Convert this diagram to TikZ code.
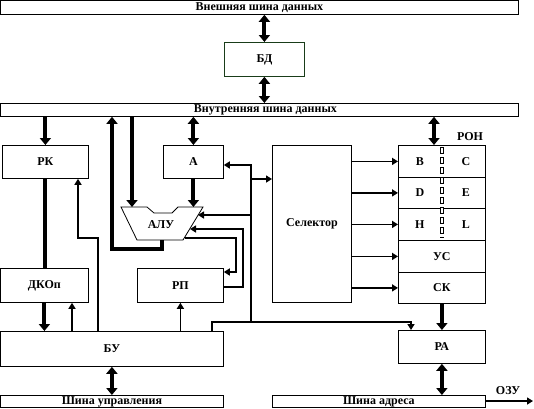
\documentclass[tikz,border=0pt]{standalone}
\usepackage{fontspec}
\setmainfont{Liberation Serif}
\usetikzlibrary{arrows.meta}
\definecolor{bdgreen}{RGB}{25,60,25}

\begin{document}
\begin{tikzpicture}[x=1pt, y=-1pt,
  blk/.style={draw, line width=0.8pt, inner sep=0pt, anchor=north west},
  lbl/.style={font=\fontsize{12}{12}\selectfont\bfseries, inner sep=0pt},
  thk/.style={line width=4pt, -{Triangle[length=7pt,width=11pt]}},
  thkl/.style={line width=4pt},
  dbl/.style={line width=4pt, {Triangle[length=7pt,width=11pt]}-{Triangle[length=7pt,width=11pt]}},
  thn/.style={line width=1.6pt, -{Triangle[length=6pt,width=7pt]}},
  thnl/.style={line width=1.6pt}]
\useasboundingbox (0,0) rectangle (534,408);
\node [blk, minimum width=518pt, minimum height=14pt] (ebus) at (0,0) {};
\node [lbl] (ebust) at (ebus.center) {Внешняя шина данных};
\node [blk, draw=bdgreen, minimum width=80pt, minimum height=34pt] (bd) at (224,42) {};
\node [lbl] (bdt) at (bd.center) {БД};
\node [blk, minimum width=518pt, minimum height=13pt] (ibus) at (0,103) {};
\node [lbl] (ibust) at ([xshift=6]ibus.center) {Внутренняя шина данных};
\node [blk, minimum width=86pt, minimum height=33pt] (rk) at (2,145) {};
\node [lbl] (rkt) at (rk.center) {РК};
\node [blk, minimum width=60pt, minimum height=33pt] (a) at (163,145) {};
\node [lbl] (at) at (a.center) {А};
\node [blk, minimum width=79pt, minimum height=157pt] (sel) at (272,145) {};
\node [lbl] (selt) at (sel.center) {Селектор};
\foreach \i/\t/\h in {1/145/32, 2/177/31, 3/208/32, 4/240/32, 5/272/31}
  \node [blk, minimum width=87pt, minimum height=\h pt] (r\i) at (398,\t) {};
\foreach \i/\l/\r in {1/B/C, 2/D/E, 3/H/L} {
  \node [lbl] (r\i l) at ([xshift=-22]r\i.center) {\l};
  \node [lbl] (r\i r) at ([xshift=24]r\i.center) {\r};
}
\node [lbl] (r4t) at (r4.center) {УС};
\node [lbl] (r5t) at (r5.center) {СК};
\node [lbl] (ront) at (470,137) {РОН};
\draw [line width=3.4pt, dash pattern=on 7pt off 3pt] (442,147) -- (442,238);
\draw [white, line width=1.2pt, dash pattern=on 5pt off 5pt] (442,148) -- (442,238);
\node [blk, minimum width=88pt, minimum height=34pt] (dkop) at (0,268) {};
\node [lbl] (dkopt) at (dkop.center) {ДКОп};
\node [blk, minimum width=86pt, minimum height=34pt] (rp) at (137,268) {};
\node [lbl] (rpt) at (rp.center) {РП};
\node [blk, minimum width=223pt, minimum height=35pt] (bu) at (0,331) {};
\node [lbl] (but) at (bu.center) {БУ};
\node [blk, minimum width=87pt, minimum height=33pt] (ra) at (398,330) {};
\node [lbl] (rat) at (ra.center) {РА};
\node [blk, minimum width=223pt, minimum height=12pt] (cbus) at (0,395) {};
\node [lbl] (cbust) at (cbus.center) {Шина управления};
\node [blk, minimum width=213pt, minimum height=12pt] (abus) at (272,395) {};
\node [lbl] (abust) at (abus.center) {Шина адреса};
\draw [line width=0.8pt, fill=white] (121,207) -- (147,207) -- (154,213) -- (172,213) -- (178,207)
  -- (203,207) -- (183,240) -- (137,240) -- cycle;
\node [lbl] (alu) at (161,225) {АЛУ};
\coordinate (alul) at (132,207);
\coordinate (alub) at (162,240);
\coordinate (alur1) at (198,215);
\coordinate (alur2) at (190,229);
\coordinate (alur3) at (185,238);
\coordinate (fb) at (112,249);
\coordinate (fk1) at (98,238);
\coordinate (fk2) at (78,238);
\coordinate (v0) at (212,322);
\coordinate (v1) at (251,322);
\coordinate (vtop) at (251,165);
\coordinate (vs) at (251,179);
\coordinate (vr) at (251,215);
\coordinate (rain) at (411,322);
\coordinate (ozu) at (533,401);
\draw [dbl] (ebus.south -| bd.north) -- (bd.north);
\draw [dbl] (bd.south) -- (bd.south |- ibus.north);
\draw [thk] (ibus.south -| rk.north) -- (rk.north);
\draw [thkl] (rk.south) -- (rk.south |- dkop.north);
\draw [thk] (dkop.south) -- (dkop.south |- bu.north);
\draw [thk] (ibus.south -| alul) -- (alul);
\draw [dbl] (ibus.south -| a.north) -- (a.north);
\draw [thk] (a.south) -- (a.south |- alul);
\draw [thk] (alub) |- (fb) -- (fb |- ibus.south);
\draw [dbl] (ibus.south -| 434,0) -- (434,0 |- r1.north);
\foreach \i in {1,...,5}
  \draw [thn] (sel.east |- r\i.west) -- (r\i.west);
\draw [thk] (r5.south) -- (r5.south |- ra.north);
\draw [dbl] (ra.south) -- (ra.south |- abus.north);
\draw [dbl] (bu.south) -- (bu.south |- cbus.north);
\draw [thn] (bu.north -| fk1) -- (fk1) -- (fk2) -- (fk2 |- rk.south);
\draw [thn] (bu.north -| 72,0) -- (72,0 |- dkop.south);
\draw [thn] (bu.north -| rp.south) -- (rp.south);
\draw [thn] (bu.north -| v0) |- (rain) -- (rain |- ra.north);
\draw [thn] (v1) -- (vtop) -- (vtop -| a.east);
\draw [thn] (vs) -- (vs -| sel.west);
\draw [thn] (vr) -- (alur1);
\draw [thn] (rp.east |- 0,287) -- (243,287) -- (243,229) -- (alur2);
\draw [thn] (alur3) -- (236,238) -- (236,272) -- (rp.east |- 0,272);
\draw [thn] (abus.east |- ozu) -- (ozu);
\node [lbl] (ozut) at (508,391) {ОЗУ};
\end{tikzpicture}
\end{document}
